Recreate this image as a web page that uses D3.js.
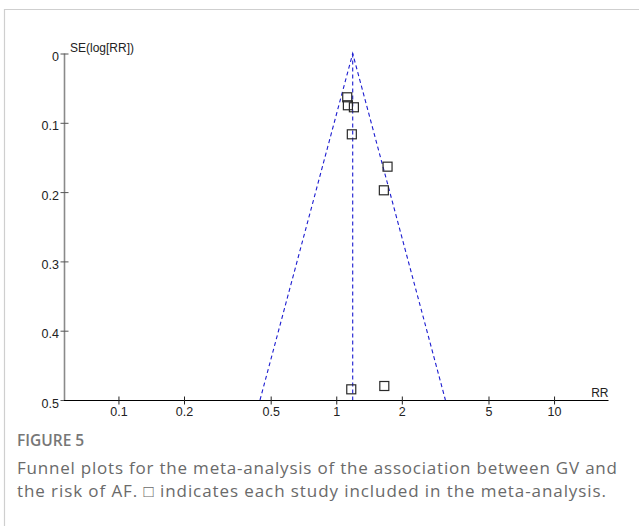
<!DOCTYPE html>
<html>
<head>
<meta charset="utf-8">
<script src="https://cdn.jsdelivr.net/npm/d3@7"></script>
<style>
  html, body { margin: 0; padding: 0; background: #fff; }
  svg { display: block; }
</style>
</head>
<body>
<svg id="chart" width="639" height="526"></svg>
<script>
// ---- data ----
const xTickValues = [0.1, 0.2, 0.5, 1, 2, 5, 10];
const yTickValues = [0, 0.1, 0.2, 0.3, 0.4, 0.5];
const studyRR = [1.123, 1.131, 1.205, 1.179, 1.720, 1.654, 1.172, 1.662];
const studySE = [0.0632, 0.0747, 0.0776, 0.1166, 0.1633, 0.1974, 0.4846, 0.4798];
const pooledRR = 1.19;
const seMax = 0.5;
const xLabel = "RR";
const yLabel = "SE(log[RR])";
const figLabel = "FIGURE 5";
const captionLines = [
  "Funnel plots for the meta-analysis of the association between GV and",
  "the risk of AF. \u25A1 indicates each study included in the meta-analysis."
];

// ---- drawing ----
const svg = d3.select("#chart");

// card border (top + left)
svg.append("path")
  .attr("d", "M4.5,526 L4.5,9.5 L639,9.5")
  .attr("fill", "none")
  .attr("stroke", "#cfcfcf")
  .attr("stroke-width", 1.2);

const x = d3.scaleLog().domain([Math.pow(10, -1.25), Math.pow(10, 1.25)]).range([64, 608.5]);
const y = d3.scaleLinear().domain([0, seMax]).range([53.5, 400]);

const font = "'Liberation Sans', Arial, sans-serif";
const tickFs = 12.5;

// y axis
const yAxis = svg.append("g")
  .attr("transform", `translate(${x.range()[0] + 0.5},0)`)
  .call(d3.axisLeft(y).tickValues(yTickValues).tickFormat(d => d3.format("")(d)).tickSize(4).tickPadding(5));
yAxis.select(".domain").attr("stroke", "#8a8a8a").attr("stroke-width", 1.6).attr("d", `M0,${y(0)}V${y(seMax)}`);
yAxis.selectAll(".tick line").attr("x1", -4).attr("x2", 4).attr("stroke", "#555");
yAxis.selectAll(".tick text")
  .attr("font-family", font).attr("font-size", tickFs).attr("fill", "#222")
  .attr("x", -5.5).attr("dy", 7);

// x axis
const xAxis = svg.append("g")
  .attr("transform", `translate(0,${y(seMax) + 0.5})`)
  .call(d3.axisBottom(x).tickValues(xTickValues).tickFormat(d => d3.format("")(d)).tickSize(4).tickPadding(6));
xAxis.select(".domain").attr("stroke", "#000").attr("stroke-width", 1.1).attr("d", `M${x.range()[0]},0H${x.range()[1]}`);
xAxis.selectAll(".tick line").attr("y1", -4).attr("y2", 4).attr("stroke", "#222");
xAxis.selectAll(".tick text")
  .attr("font-family", font).attr("font-size", tickFs).attr("fill", "#222")
  .attr("dy", 0).attr("y", 15.5);

// axis titles
svg.append("text")
  .attr("x", x.range()[0] + 6).attr("y", y(0) - 1.5)
  .attr("font-family", font).attr("font-size", 12).attr("fill", "#222")
  .text(yLabel);
svg.append("text")
  .attr("x", x.range()[1]).attr("y", y(seMax) - 3)
  .attr("text-anchor", "end")
  .attr("font-family", font).attr("font-size", 12).attr("fill", "#222")
  .text(xLabel);

// funnel
const z = 1.96;
const funnelColor = "#1c1cd0";
const line = d3.line().x(d => x(d[0])).y(d => y(d[1]));
const funnelPaths = [
  [[pooledRR * Math.exp(-z * seMax), seMax], [pooledRR, 0], [pooledRR * Math.exp(z * seMax), seMax]],
  [[pooledRR, 0], [pooledRR, seMax]]
];
svg.append("g").selectAll("path")
  .data(funnelPaths)
  .join("path")
  .attr("d", line)
  .attr("fill", "none")
  .attr("stroke", funnelColor)
  .attr("stroke-width", 1.1)
  .attr("stroke-dasharray", "4,3");

// studies
const sq = 9;
svg.append("g").selectAll("rect")
  .data(studyRR.map((r, i) => [r, studySE[i]]))
  .join("rect")
  .attr("x", d => x(d[0]) - sq / 2)
  .attr("y", d => y(d[1]) - sq / 2)
  .attr("width", sq).attr("height", sq)
  .attr("fill", "none")
  .attr("stroke", "#2a2a2a")
  .attr("stroke-width", 1.2);

// caption
const capFont = "'Open Sans', 'Noto Sans', sans-serif";
svg.append("text")
  .attr("x", 17).attr("y", 446)
  .attr("font-family", capFont).attr("font-size", 15.5).attr("font-weight", 600)
  .attr("fill", "#777")
  .text(figLabel);
const capWidths = [600, 589];
svg.append("g").selectAll("text")
  .data(captionLines)
  .join("text")
  .attr("x", 17)
  .attr("y", (d, i) => 473.5 + i * 23.5)
  .attr("font-family", capFont).attr("font-size", 17)
  .attr("fill", "#6a6a6a")
  .attr("textLength", (d, i) => capWidths[i]).attr("lengthAdjust", "spacing")
  .text(d => d);
</script>
</body>
</html>
